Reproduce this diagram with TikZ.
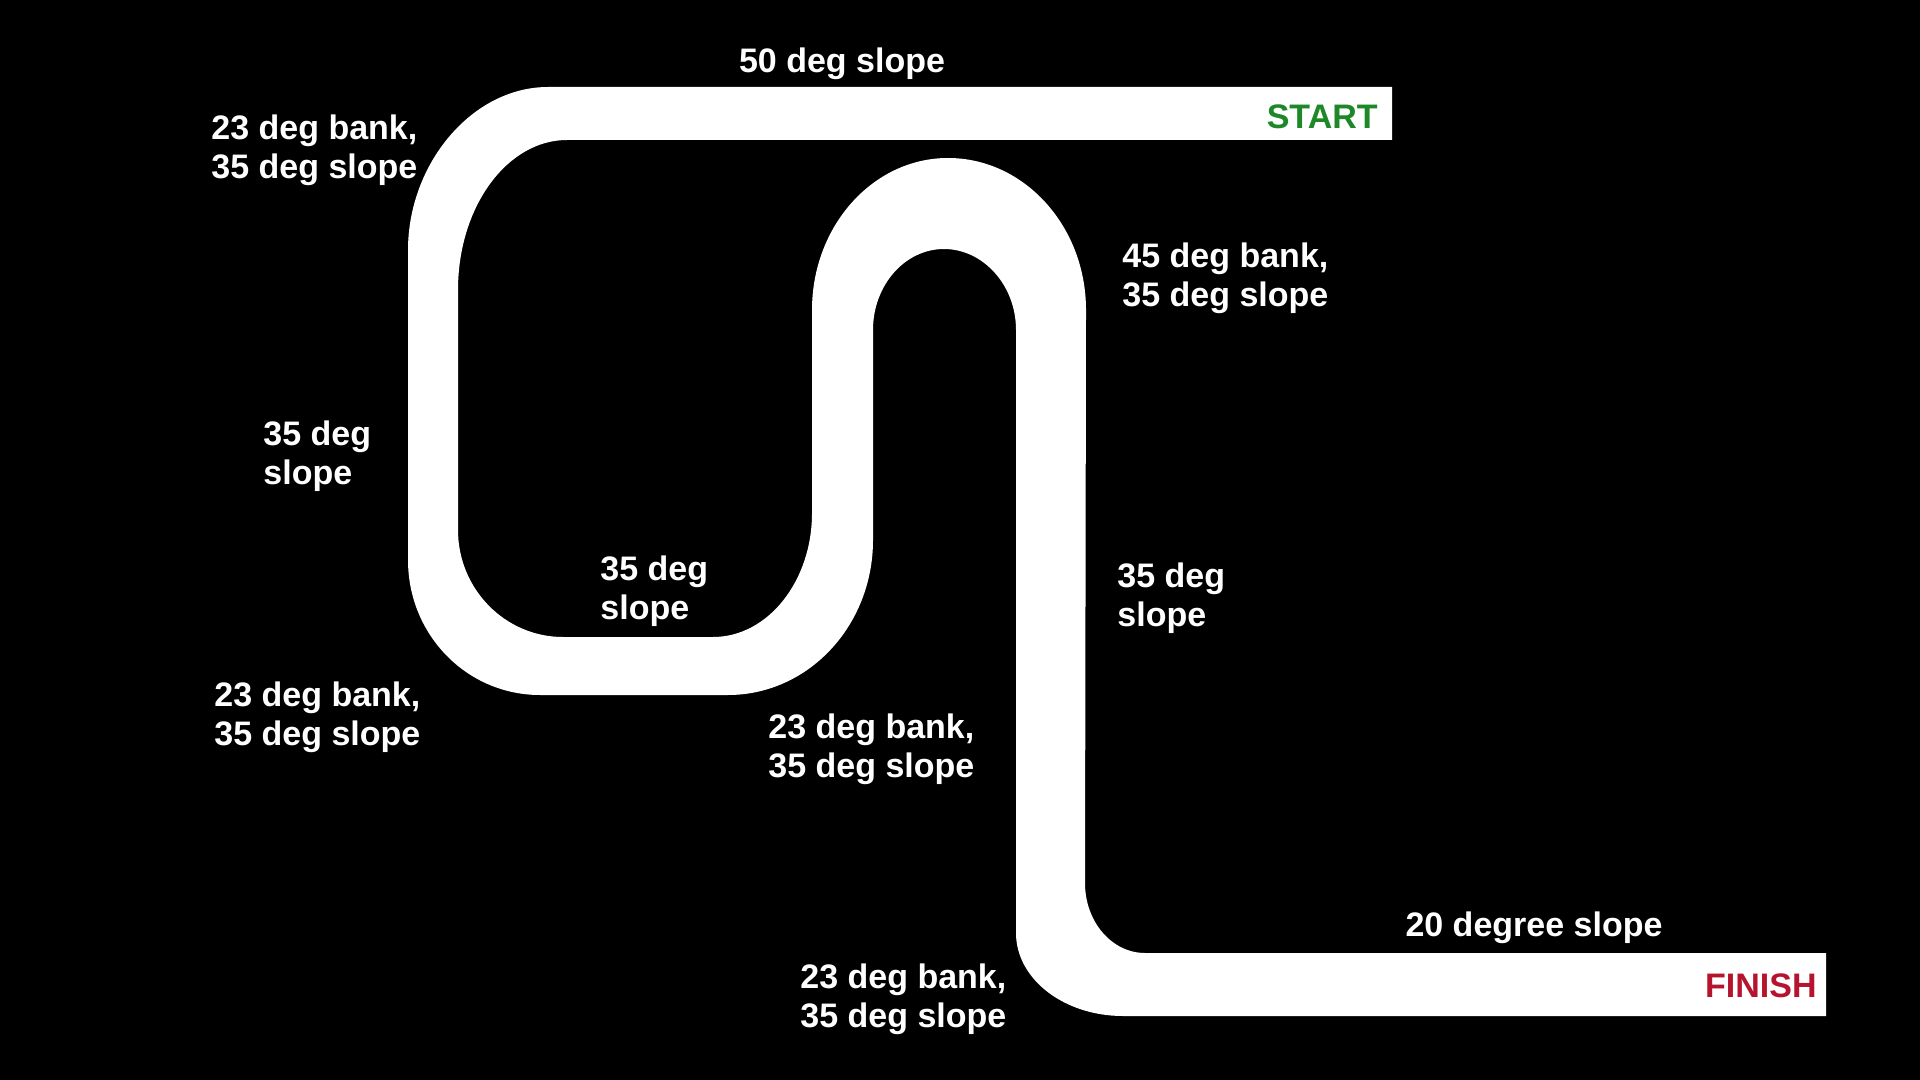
\documentclass[tikz,border=0pt]{standalone}
\usepackage{fontspec}
\setmainfont{Liberation Sans}
\definecolor{startgreen}{RGB}{30,136,40}
\definecolor{finishred}{RGB}{182,20,46}
\tikzset{
  lbl/.style={text=white, font=\fontsize{17}{19.5}\selectfont\bfseries,
    align=left, inner sep=0pt, anchor=west},
  track/.style={fill=white, draw=none}
}
\begin{document}
\begin{tikzpicture}[x=0.5pt, y=-0.5pt]
  %% background (1920 x 1080)
  \fill[black] (0,0) rectangle (1920,1080);
  \useasboundingbox (0,0) rectangle (1920,1080);

  %% track: outer edge from the start, then back along the inner edge
  \fill[track] (1392,87) -- (548,87)
    .. controls (472,87) and (408,164) .. (408,250)
    -- (408,560)
    .. controls (408,635) and (467,695) .. (540,695)
    -- (728,695)
    .. controls (808,695) and (873,626) .. (873,540)
    -- (873,330)
    .. controls (873,285) and (905,249) .. (944,249)
    .. controls (983,249) and (1016,285) .. (1016,330)
    -- (1016,933)
    .. controls (1016,979) and (1064,1016) .. (1123,1016)
    -- (1826,1016) -- (1826,953) -- (1145,953)
    .. controls (1112,953) and (1085,922) .. (1085,883)
    -- (1086,310)
    .. controls (1086,226) and (1024,158) .. (948,158)
    .. controls (873,158) and (812,226) .. (812,310)
    -- (812,513)
    .. controls (812,581) and (768,637) .. (713,637)
    -- (563,637)
    .. controls (505,637) and (458,589) .. (458,530)
    -- (458,290)
    .. controls (458,207) and (507,140) .. (567,140)
    -- (1392,140) -- cycle;

  %% start / finish
  \node[lbl, anchor=east, text=startgreen] (start) at (1378,117) {START};
  \node[lbl, anchor=east, text=finishred] (finish) at (1817,986) {FINISH};

  %% slope and bank labels
  \node[lbl, anchor=center] (topslope) at (842,64) {50 deg slope};
  \node[lbl, anchor=center] (endslope) at (1534,928) {20 degree slope};
  \foreach \px/\py/\nm/\txt in {
      211/150/tlbank/{23 deg bank,\\35 deg slope},
      1122/278/archbank/{45 deg bank,\\35 deg slope},
      263/456/leftslope/{35 deg\\slope},
      600/591/innerslope/{35 deg\\slope},
      1117/598/rightslope/{35 deg\\slope},
      214/717/blbank/{23 deg bank,\\35 deg slope},
      768/749/midbank/{23 deg bank,\\35 deg slope},
      800/999/lowbank/{23 deg bank,\\35 deg slope}} {
    \node[lbl] (\nm) at (\px,\py) {\txt};
  }
\end{tikzpicture}
\end{document}
